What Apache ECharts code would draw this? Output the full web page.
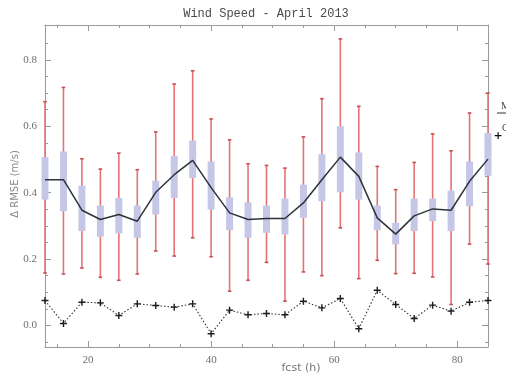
<!DOCTYPE html>
<html>
<head>
<meta charset="utf-8">
<script src="https://cdn.jsdelivr.net/npm/echarts@6/dist/echarts.min.js"></script>
<style>
  html, body { margin: 0; padding: 0; background: #fff; }
  #chart { width: 506px; height: 379px; }
</style>
</head>
<body>
<div id="chart"></div>
<script>
// Forecast hours
const fcstHours = [13, 16, 19, 22, 25, 28, 31, 34, 37, 40, 43, 46, 49, 52, 55, 58, 61, 64, 67, 70, 73, 76, 79, 82, 85];
// Whisker extremes
const whiskerLow  = [0.158, 0.155, 0.173, 0.145, 0.136, 0.155, 0.224, 0.209, 0.264, 0.207, 0.103, 0.136, 0.190, 0.073, 0.161, 0.150, 0.294, 0.141, 0.196, 0.156, 0.157, 0.146, 0.063, 0.245, 0.185];
const whiskerHigh = [0.674, 0.717, 0.502, 0.471, 0.519, 0.469, 0.583, 0.727, 0.767, 0.622, 0.559, 0.487, 0.482, 0.474, 0.568, 0.683, 0.863, 0.660, 0.479, 0.409, 0.491, 0.577, 0.526, 0.640, 0.700];
// Interquartile boxes
const boxLow  = [0.379, 0.344, 0.284, 0.267, 0.277, 0.264, 0.334, 0.384, 0.444, 0.349, 0.287, 0.264, 0.279, 0.274, 0.324, 0.374, 0.401, 0.379, 0.287, 0.244, 0.284, 0.314, 0.284, 0.359, 0.451];
const boxHigh = [0.507, 0.524, 0.421, 0.361, 0.384, 0.361, 0.436, 0.511, 0.557, 0.494, 0.386, 0.371, 0.361, 0.382, 0.424, 0.516, 0.600, 0.521, 0.361, 0.309, 0.382, 0.382, 0.406, 0.494, 0.580];
// Central line through the boxes
const meanLine = [0.439, 0.439, 0.347, 0.319, 0.334, 0.314, 0.401, 0.454, 0.497, 0.415, 0.339, 0.319, 0.322, 0.322, 0.369, 0.439, 0.507, 0.449, 0.324, 0.275, 0.330, 0.351, 0.347, 0.434, 0.501];
// Dotted series with plus markers
const plusLine = [0.075, 0.006, 0.070, 0.068, 0.030, 0.065, 0.060, 0.055, 0.065, -0.025, 0.046, 0.032, 0.036, 0.032, 0.073, 0.053, 0.081, -0.010, 0.106, 0.063, 0.021, 0.061, 0.043, 0.070, 0.075];

// Axis ticks and labels
const xMajor = [20, 40, 60, 80];
const xMinor = [15, 25, 30, 35, 45, 50, 55, 65, 70, 75];
const yMajor = [0.0, 0.2, 0.4, 0.6, 0.8];
const yMinor = [-0.05, 0.05, 0.1, 0.15, 0.25, 0.3, 0.35, 0.45, 0.5, 0.55, 0.65, 0.7, 0.75, 0.85];

const X_MIN = 13, X_MAX = 85, Y_MIN = -0.065, Y_MAX = 0.905;
const AXIS_GRAY = '#9a9a9a';
const LABEL_GRAY = '#6e6e6e';

const boxData = fcstHours.map((h, i) => [h, whiskerLow[i], boxLow[i], boxHigh[i], whiskerHigh[i]]);

function xAxisDef(position, ticks, len, withLabels, showLine) {
  return {
    type: 'value', min: X_MIN, max: X_MAX, position: position,
    axisLine: { show: showLine, onZero: false, lineStyle: { color: AXIS_GRAY, width: 1 } },
    axisTick: { show: true, inside: true, length: len, customValues: ticks, lineStyle: { color: AXIS_GRAY } },
    axisLabel: withLabels
      ? { show: true, customValues: ticks, color: LABEL_GRAY, fontFamily: 'Liberation Serif', fontSize: 11, margin: 8 }
      : { show: false },
    splitLine: { show: false }
  };
}
function yAxisDef(position, ticks, len, withLabels, showLine) {
  return {
    type: 'value', min: Y_MIN, max: Y_MAX, position: position,
    axisLine: { show: showLine, onZero: false, lineStyle: { color: AXIS_GRAY, width: 1 } },
    axisTick: { show: true, inside: true, length: len, customValues: ticks, lineStyle: { color: AXIS_GRAY } },
    axisLabel: withLabels
      ? { show: true, customValues: ticks, color: LABEL_GRAY, fontFamily: 'Liberation Serif', fontSize: 11, margin: 8,
          formatter: v => v.toFixed(1) }
      : { show: false },
    splitLine: { show: false }
  };
}

const chart = echarts.init(document.getElementById('chart'), null, { renderer: 'canvas' });

chart.setOption({
  animation: false,
  backgroundColor: '#ffffff',
  grid: { left: 45, right: 18, top: 25, bottom: 32, containLabel: false },
  xAxis: [
    xAxisDef('bottom', xMajor, 6, true, true),
    xAxisDef('bottom', xMinor, 3, false, false),
    xAxisDef('top', xMajor, 6, false, true),
    xAxisDef('top', xMinor, 3, false, false)
  ],
  yAxis: [
    yAxisDef('left', yMajor, 6, true, true),
    yAxisDef('left', yMinor, 3, false, false),
    yAxisDef('right', yMajor, 6, false, true),
    yAxisDef('right', yMinor, 3, false, false)
  ],
  series: [
    {
      type: 'custom',
      xAxisIndex: 0, yAxisIndex: 0,
      clip: false,
      data: boxData,
      renderItem: function (params, api) {
        const x = api.value(0);
        const pLo = api.coord([x, api.value(1)]);
        const pQ1 = api.coord([x, api.value(2)]);
        const pQ3 = api.coord([x, api.value(3)]);
        const pHi = api.coord([x, api.value(4)]);
        const cx = pLo[0];
        const halfBox = 3.5, halfCap = 1.8;
        return {
          type: 'group',
          children: [
            { type: 'line', shape: { x1: cx, y1: pLo[1], x2: cx, y2: pHi[1] },
              style: { stroke: '#e57373', lineWidth: 1.6 } },
            { type: 'line', shape: { x1: cx - halfCap, y1: pLo[1], x2: cx + halfCap, y2: pLo[1] },
              style: { stroke: '#c94f55', lineWidth: 1.6 } },
            { type: 'line', shape: { x1: cx - halfCap, y1: pHi[1], x2: cx + halfCap, y2: pHi[1] },
              style: { stroke: '#c94f55', lineWidth: 1.6 } },
            { type: 'rect', shape: { x: cx - halfBox, y: pQ3[1], width: halfBox * 2, height: pQ1[1] - pQ3[1] },
              style: { fill: '#c6c7e6' } }
          ]
        };
      },
      z: 2
    },
    {
      type: 'line',
      xAxisIndex: 0, yAxisIndex: 0,
      data: fcstHours.map((h, i) => [h, meanLine[i]]),
      showSymbol: false,
      symbol: 'none',
      lineStyle: { color: '#2f3238', width: 1.5 },
      clip: false,
      z: 3
    },
    {
      type: 'line',
      xAxisIndex: 0, yAxisIndex: 0,
      data: fcstHours.map((h, i) => [h, plusLine[i]]),
      symbol: 'path://M4,0H6V4H10V6H6V10H4V6H0V4H4Z',
      symbolSize: 7,
      itemStyle: { color: '#1e1e1e' },
      lineStyle: { color: '#333333', width: 1.1, type: [1.5, 2] },
      clip: false,
      z: 3
    }
  ],
  graphic: [
    { type: 'text', x: 266, y: 14,
      style: { text: 'Wind Speed - April 2013', fill: '#4a4a4a', font: '12px "Liberation Mono"', align: 'center', verticalAlign: 'middle' } },
    { type: 'text', x: 301, y: 368,
      style: { text: 'fcst (h)', fill: '#777777', font: '11px "DejaVu Sans"', align: 'center', verticalAlign: 'middle' } },
    { type: 'text', x: 15, y: 184, rotation: Math.PI / 2,
      style: { text: 'Δ RMSE (m/s)', fill: '#8a8a8a', font: '10px "DejaVu Sans"', align: 'center', verticalAlign: 'middle' } },
    // Legend entries running off the right edge
    { type: 'line', shape: { x1: 497, y1: 113, x2: 512, y2: 113 }, style: { stroke: '#333', lineWidth: 1 } },
    { type: 'text', x: 501, y: 106,
      style: { text: 'Mean', fill: '#444', font: '10px "Liberation Serif"', verticalAlign: 'middle' } },
    { type: 'text', x: 498, y: 136,
      style: { text: '+', fill: '#111', font: 'bold 11px "DejaVu Sans"', align: 'center', verticalAlign: 'middle' } },
    { type: 'text', x: 502, y: 128,
      style: { text: 'Corr', fill: '#444', font: '10px "Liberation Serif"', verticalAlign: 'middle' } }
  ]
});
</script>
</body>
</html>
